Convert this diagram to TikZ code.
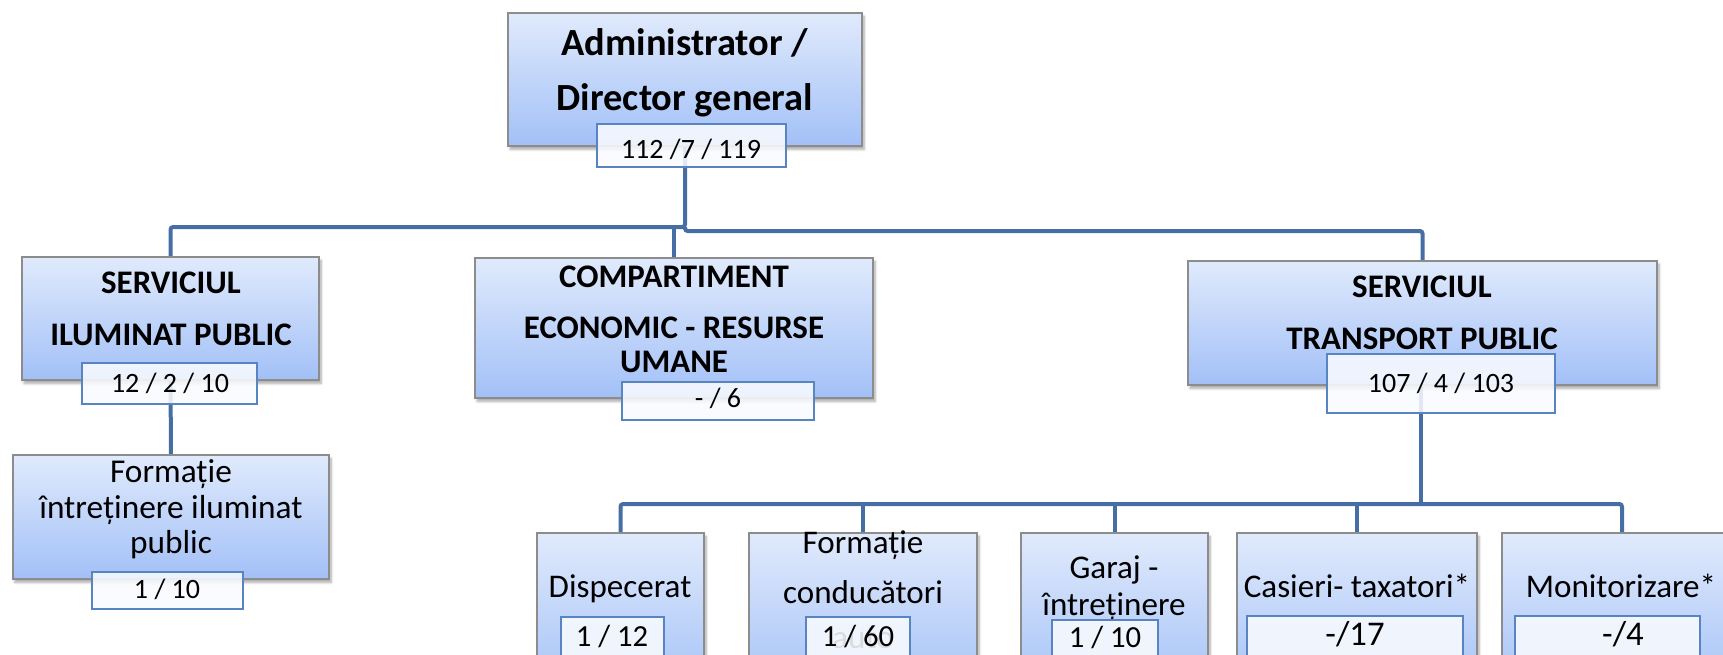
\documentclass[tikz,border=0pt]{standalone}
\usepackage{fontspec}
\setmainfont{Carlito}
\usetikzlibrary{fit,backgrounds,shadows.blur}
\definecolor{lineblue}{RGB}{70,110,165}
\definecolor{boxtop}{RGB}{224,234,252}
\definecolor{boxbot}{RGB}{162,192,247}
\definecolor{boxedge}{RGB}{140,140,140}
\definecolor{cntedge}{RGB}{88,132,194}
\definecolor{cntfill}{RGB}{248,250,254}
\tikzset{
  unitbox/.style={rectangle, draw=boxedge, line width=0.8pt, inner sep=0pt,
    top color=boxtop, bottom color=boxbot,
    blur shadow={shadow xshift=1.5pt, shadow yshift=-2.5pt, shadow blur steps=6, shadow opacity=35}},
  cntbox/.style={rectangle, draw=cntedge, line width=1.1pt, inner sep=0pt,
    fill=cntfill, fill opacity=0.88},
  conn/.style={draw=lineblue, line width=3pt, rounded corners=2pt},
  bigtitle/.style={anchor=base, inner sep=0pt, font=\bfseries\fontsize{28.8pt}{34pt}\selectfont},
  title/.style={anchor=base, inner sep=0pt, font=\bfseries\fontsize{24.7pt}{29pt}\selectfont},
  body/.style={anchor=base, inner sep=0pt, font=\fontsize{25pt}{30pt}\selectfont},
  lowbody/.style={anchor=base, inner sep=0pt, font=\fontsize{24.8pt}{30pt}\selectfont},
  cnt/.style={anchor=base, inner sep=0pt, font=\fontsize{21pt}{25pt}\selectfont},
  lowcnt/.style={anchor=base, inner sep=0pt, font=\fontsize{23pt}{27pt}\selectfont},
  cntbig/.style={anchor=base, inner sep=0pt, font=\fontsize{26pt}{30pt}\selectfont},
}
\begin{document}
\begin{tikzpicture}[x=0.75pt, y=-0.75pt]
\useasboundingbox (0,0) rectangle (1723,654);
\clip (0,0) rectangle (1723,654);

% unit boxes
\node[unitbox, fit={(508,13)(862,146)}] (dir) {};
\node[unitbox, fit={(22,257)(319,380)}] (ilum) {};
\node[unitbox, fit={(13,455)(329,579)}] (form) {};
\node[unitbox, fit={(475,258)(873,398)}] (comp) {};
\node[unitbox, fit={(1188,261)(1657,385)}] (tp) {};
\node[unitbox, fit={(537,533)(704,700)}] (disp) {};
\node[unitbox, fit={(749,533)(977,700)}] (fc) {};
\node[unitbox, fit={(1021,533)(1208,700)}] (gar) {};
\node[unitbox, fit={(1237,533)(1477,700)}] (cas) {};
\node[unitbox, fit={(1502,533)(1742,700)}] (mon) {};

% titles
\node[bigtitle] (t1a) at (685,55) {Administrator /};
\node[bigtitle] (t1b) at (685,110) {Director general};
\node[title] (t2a) at (171,293) {SERVICIUL};
\node[title] (t2b) at (171,345) {ILUMINAT PUBLIC};
\node[body] (t3a) at (171,482) {Formație};
\node[body] (t3b) at (171,518) {întreținere iluminat};
\node[body] (t3c) at (171,553) {public};
\node[title] (t4a) at (674,287) {COMPARTIMENT};
\node[title] (t4b) at (674,338) {ECONOMIC - RESURSE};
\node[title] (t4c) at (674,372) {UMANE};
\node[title] (t5a) at (1422,297) {SERVICIUL};
\node[title] (t5b) at (1422,349) {TRANSPORT PUBLIC};
\node[lowbody] (t6) at (620,597) {Dispecerat};
\node[lowbody] (t7a) at (863,553) {Formație};
\node[lowbody] (t7b) at (863,603) {conducători};
\node[lowbody] (t7c) at (863,648) {auto};
\node[lowbody] (t8a) at (1114,578) {Garaj -};
\node[lowbody] (t8b) at (1114,615) {întreținere};
\node[lowbody] (t9) at (1357,597) {Casieri- taxatori*};
\node[lowbody] (t10) at (1621,597) {Monitorizare*};

% count boxes
\node[cntbox, fit={(597,124)(786,167)}] (dircnt) {};
\node[cntbox, fit={(82,363)(257,404)}] (ilumcnt) {};
\node[cntbox, fit={(92,572)(243,609)}] (formcnt) {};
\node[cntbox, fit={(622,382)(814,420)}] (compcnt) {};
\node[cntbox, fit={(1327,354)(1555,413)}] (tpcnt) {};
\node[cntbox, fit={(561,617)(664,700)}] (dispcnt) {};
\node[cntbox, fit={(806,617)(910,700)}] (fccnt) {};
\node[cntbox, fit={(1052,620)(1158,700)}] (garcnt) {};
\node[cntbox, fit={(1247,616)(1463,700)}] (cascnt) {};
\node[cntbox, fit={(1515,616)(1700,700)}] (moncnt) {};

\node[cnt] (c1) at (691,158) {112 /7 / 119};
\node[cnt] (c2) at (170,392) {12 / 2 / 10};
\node[cnt] (c3) at (167,598) {1 / 10};
\node[cnt] (c4) at (718,407) {- / 6};
\node[cnt] (c5) at (1441,392) {107 / 4 / 103};
\node[lowcnt] (c6) at (612,646) {1 / 12};
\node[lowcnt] (c7) at (858,646) {1 / 60};
\node[lowcnt] (c8) at (1105,647) {1 / 10};
\node[cntbig] (c9) at (1355,645) {-/17};
\node[cntbig] (c10) at (1623,645) {-/4};

% bus coordinates
\coordinate (busM) at (685,227);
\coordinate (busM2) at (685,231);
\coordinate (busC) at (674,227);
\coordinate (busR) at (1421,231);
\coordinate (bus2) at (1421,504);

\begin{scope}[on background layer]
  \draw[conn] (dir.south) -- (busM) -| (ilum.north);
  \draw[conn] (busM) -- (busM2) -| (tp.north);
  \draw[conn] (busC) -- (comp.north -| busC);
  \draw[conn] (ilum.south) -- (form.north);
  \draw[conn] (tp.south -| busR) -- (bus2);
  \draw[conn] (disp.north) |- (bus2) -| (mon.north);
  \draw[conn] (fc.north) -- (fc.north |- bus2);
  \draw[conn] (gar.north) -- (gar.north |- bus2);
  \draw[conn] (cas.north) -- (cas.north |- bus2);
\end{scope}
\end{tikzpicture}
\end{document}
